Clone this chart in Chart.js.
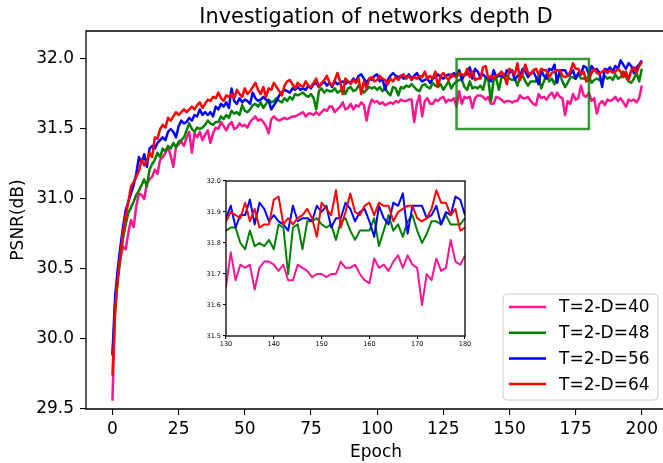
<!DOCTYPE html>
<html>
<head>
<meta charset="utf-8">
<script src="https://cdn.jsdelivr.net/npm/chart.js@4.4.0/dist/chart.umd.min.js"></script>
<style>
  html, body { margin: 0; padding: 0; background: #fff; overflow: hidden; }
  #wrap { position: relative; width: 663px; height: 463px; overflow: hidden; }
  #mainChart { position: absolute; left: 0; top: 0; }
  #zoomChart { position: absolute; left: 196px; top: 174px; }
</style>
</head>
<body>
<div id="wrap">
  <canvas id="mainChart" width="663" height="463"></canvas>
  <canvas id="zoomChart" width="275" height="175"></canvas>
</div>
<script>
'use strict';
// PSNR par epoque pour chaque profondeur D
const epochs = Array.from({ length: 201 }, (_, i) => i);

const psnrD40 = [
  29.56,30.25,30.45,30.58,30.66,30.64,30.76,30.85,30.80,30.95,
  31.04,31.03,31.00,31.11,31.14,31.16,31.21,31.18,31.28,31.30,
  31.33,31.37,31.31,31.23,31.37,31.39,31.41,31.38,31.44,31.48,
  31.33,31.47,31.44,31.48,31.42,31.46,31.49,31.40,31.47,31.51,
  31.50,31.55,31.52,31.49,31.53,31.55,31.50,31.51,31.54,31.52,
  31.53,31.51,31.55,31.57,31.59,31.56,31.57,31.55,31.52,31.47,
  31.57,31.59,31.57,31.56,31.57,31.58,31.57,31.58,31.59,31.59,
  31.60,31.61,31.62,31.59,31.61,31.61,31.60,31.62,31.60,31.62,
  31.64,31.63,31.66,31.66,31.62,31.64,31.66,31.69,31.64,31.65,
  31.68,31.64,31.67,31.66,31.69,31.67,31.56,31.66,31.71,31.69,
  31.70,31.68,31.69,31.67,31.68,31.69,31.68,31.70,31.69,31.71,
  31.70,31.70,31.71,31.71,31.55,31.68,31.74,31.59,31.70,31.72,
  31.68,31.68,31.71,31.70,31.72,31.73,31.69,31.71,31.70,31.72,
  31.66,31.77,31.68,31.73,31.72,31.73,31.65,31.72,31.74,31.74,
  31.73,31.71,31.73,31.68,31.68,31.73,31.72,31.71,31.69,31.70,
  31.70,31.69,31.70,31.70,31.74,31.72,31.72,31.73,31.70,31.68,
  31.67,31.75,31.72,31.73,31.71,31.74,31.76,31.72,31.76,31.73,
  31.72,31.60,31.70,31.68,31.75,31.71,31.72,31.81,31.74,31.73,
  31.76,31.70,31.72,31.61,31.68,31.70,31.67,31.71,31.70,31.71,
  31.73,31.70,31.72,31.69,31.66,31.71,31.70,31.71,31.69,31.72,31.81
];

const psnrD48 = [
  29.88,30.20,30.42,30.58,30.72,30.82,30.90,30.94,30.98,31.03,
  31.06,31.10,31.14,31.09,31.21,31.25,31.28,31.33,31.30,31.36,
  31.34,31.38,31.36,31.40,31.37,31.41,31.42,31.44,31.49,31.54,
  31.50,31.48,31.51,31.50,31.51,31.53,31.56,31.54,31.53,31.55,
  31.55,31.59,31.57,31.60,31.58,31.63,31.61,31.62,31.60,31.67,
  31.63,31.62,31.64,31.67,31.68,31.66,31.69,31.65,31.68,31.71,
  31.69,31.70,31.72,31.70,31.69,31.72,31.70,31.73,31.71,31.75,
  31.74,31.75,31.76,31.74,31.73,31.75,31.72,31.64,31.77,31.79,
  31.76,31.78,31.77,31.77,31.79,31.76,31.77,31.80,31.75,31.79,
  31.80,31.77,31.78,31.81,31.79,31.76,31.78,31.80,31.79,31.80,
  31.78,31.80,31.77,31.79,31.76,31.74,31.80,31.79,31.74,31.80,
  31.79,31.81,31.80,31.82,31.80,31.78,31.77,31.81,31.82,31.80,
  31.79,31.83,31.81,31.80,31.82,31.78,31.81,31.84,31.79,31.82,
  31.84,31.85,31.85,31.80,31.78,31.84,31.79,31.80,31.79,31.81,
  31.78,31.86,31.85,31.70,31.85,31.86,31.78,31.87,31.87,31.88,
  31.86,31.85,31.86,31.81,31.87,31.88,31.84,31.81,31.84,31.84,
  31.84,31.88,31.79,31.84,31.89,31.84,31.86,31.82,31.87,31.89,
  31.84,31.80,31.83,31.87,31.87,31.86,31.89,31.86,31.86,31.86,
  31.88,31.83,31.85,31.86,31.85,31.83,31.88,31.86,31.87,31.85,
  31.89,31.86,31.87,31.91,31.87,31.84,31.83,31.86,31.90,31.84,31.93
];

const psnrD56 = [
  29.89,30.30,30.50,30.66,30.80,30.92,30.98,31.04,31.10,31.18,
  31.30,31.26,31.32,31.23,31.36,31.38,31.36,31.40,31.42,31.44,
  31.42,31.48,31.50,31.48,31.44,31.52,31.56,31.54,31.55,31.58,
  31.56,31.60,31.59,31.64,31.60,31.62,31.60,31.62,31.59,31.66,
  31.64,31.68,31.66,31.69,31.65,31.79,31.70,31.68,31.72,31.69,
  31.71,31.70,31.68,31.76,31.72,31.70,31.71,31.73,31.71,31.70,
  31.64,31.67,31.70,31.74,31.76,31.78,31.77,31.76,31.79,31.78,
  31.80,31.78,31.79,31.78,31.81,31.79,31.82,31.83,31.80,31.82,
  31.84,31.81,31.83,31.80,31.84,31.82,31.83,31.84,31.82,31.84,
  31.83,31.86,31.84,31.88,31.89,31.86,31.83,31.86,31.85,31.88,
  31.89,31.84,31.86,31.78,31.85,31.88,31.90,31.88,31.87,31.88,
  31.86,31.87,31.89,31.86,31.88,31.90,31.86,31.84,31.85,31.86,
  31.83,31.86,31.87,31.89,31.87,31.86,31.88,31.89,31.87,31.90,
  31.88,31.92,31.85,31.89,31.89,31.94,31.86,31.93,31.91,31.87,
  31.89,31.87,31.86,31.84,31.92,31.87,31.88,31.88,31.87,31.92,
  31.90,31.92,31.85,31.88,31.88,31.93,31.91,31.87,31.90,31.91,
  31.87,31.82,31.92,31.88,31.86,31.93,31.92,31.96,31.83,31.92,
  31.92,31.92,31.88,31.89,31.92,31.86,31.90,31.89,31.95,31.94,
  31.89,31.95,31.92,31.93,31.90,31.80,31.93,31.92,31.94,31.91,
  31.95,31.93,31.99,31.96,31.93,31.97,31.95,31.90,31.94,31.96,31.99
];

const psnrD64 = [
  29.74,30.21,30.44,30.60,30.76,30.88,30.98,31.09,31.12,31.16,
  31.20,31.28,31.24,31.27,31.33,31.30,31.44,31.43,31.50,31.53,
  31.51,31.58,31.56,31.59,31.62,31.60,31.62,31.64,31.62,31.64,
  31.66,31.64,31.67,31.69,31.65,31.68,31.71,31.70,31.73,31.72,
  31.76,31.72,31.70,31.74,31.73,31.75,31.72,31.78,31.75,31.73,
  31.79,31.75,31.77,31.80,31.83,31.78,31.75,31.80,31.73,31.79,
  31.78,31.83,31.80,31.77,31.74,31.81,31.84,31.85,31.82,31.79,
  31.83,31.81,31.80,31.84,31.81,31.80,31.83,31.86,31.80,31.83,
  31.85,31.88,31.83,31.81,31.85,31.90,31.84,31.75,31.86,31.84,
  31.82,31.85,31.83,31.86,31.75,31.84,31.79,31.86,31.87,31.84,
  31.85,31.88,31.86,31.85,31.82,31.86,31.84,31.87,31.85,31.88,
  31.89,31.86,31.88,31.85,31.87,31.86,31.88,31.87,31.91,31.86,
  31.88,31.86,31.91,31.80,31.88,31.90,31.87,31.85,31.89,31.88,
  31.87,31.90,31.89,31.88,31.93,31.87,31.91,31.85,31.86,31.86,
  31.94,31.95,31.86,31.88,31.86,31.88,31.89,31.91,31.88,31.82,
  31.93,31.91,31.89,31.97,31.85,31.90,31.96,31.90,31.89,31.92,
  31.93,31.89,31.93,31.92,31.92,31.87,31.90,31.91,31.92,31.92,
  31.88,31.87,31.88,31.91,31.97,31.93,31.93,31.89,31.91,31.84,
  31.85,31.90,31.93,31.90,31.89,31.91,31.92,31.90,31.92,31.90,
  31.91,31.93,31.91,31.87,31.91,31.85,31.92,31.94,31.90,31.95,31.98
];

const seriesLabels = ['T=2-D=40', 'T=2-D=48', 'T=2-D=56', 'T=2-D=64'];
const seriesColors = ['#ff1493', '#008000', '#0000ff', '#ff0000'];

const xTicks = [0, 25, 50, 75, 100, 125, 150, 175, 200];
const yTicks = [29.5, 30.0, 30.5, 31.0, 31.5, 32.0];
const zoomEpochs = [130, 180];        // fenetre du zoom (axe x)
const zoomPsnr = [31.5, 32.0];        // fenetre du zoom (axe y)
const zoomXTicks = [130, 140, 150, 160, 170, 180];
const zoomYTicks = [31.5, 31.6, 31.7, 31.8, 31.9, 32.0];

const titleText = 'Investigation of networks depth D';
const xLabel = 'Epoch';
const yLabel = 'PSNR(dB)';

const FONT = 'DejaVu Sans';
const FS = 17;

function makeDatasets(width) {
  const all = [psnrD40, psnrD48, psnrD56, psnrD64];
  return all.map((serie, k) => ({
    label: seriesLabels[k],
    data: serie.map((v, i) => ({ x: epochs[i], y: v })),
    borderColor: seriesColors[k],
    backgroundColor: seriesColors[k],
    borderWidth: width,
    borderJoinStyle: 'round',
    pointRadius: 0,
    tension: 0,
    fill: false,
    order: 3 - k   // le rouge dessine en dernier
  }));
}

// cadre, titre, labels, legende et rectangle du zoom
const mainDecor = {
  id: 'mainDecor',
  afterDraw(chart) {
    const { ctx, chartArea: a, scales } = chart;
    ctx.save();

    // rectangle du zoom
    const x0 = scales.x.getPixelForValue(zoomEpochs[0]);
    const x1 = scales.x.getPixelForValue(zoomEpochs[1]);
    const y0 = scales.y.getPixelForValue(zoomPsnr[1]);
    const y1 = scales.y.getPixelForValue(zoomPsnr[0]);
    ctx.strokeStyle = 'rgba(0,128,0,0.8)';
    ctx.lineWidth = 2.5;
    ctx.strokeRect(x0, y0, x1 - x0, y1 - y0);

    // cadre (le bord droit sort de l'image)
    ctx.strokeStyle = '#000';
    ctx.lineWidth = 1.3;
    ctx.beginPath();
    ctx.moveTo(a.right + 2, a.top);
    ctx.lineTo(a.left, a.top);
    ctx.lineTo(a.left, a.bottom);
    ctx.lineTo(a.right + 2, a.bottom);
    ctx.stroke();

    ctx.fillStyle = '#000';
    // titre
    ctx.font = '20.8px "' + FONT + '"';
    ctx.textAlign = 'center';
    ctx.textBaseline = 'alphabetic';
    ctx.fillText(titleText, 376, 23);

    // label x
    ctx.font = FS + 'px "' + FONT + '"';
    ctx.fillText(xLabel, 376, 457);

    // label y
    ctx.save();
    ctx.translate(23, (a.top + a.bottom) / 2);
    ctx.rotate(-Math.PI / 2);
    ctx.fillText(yLabel, 0, 0);
    ctx.restore();

    // legende
    const lx = 503, ly = 294, lw = 155, lh = 106, r = 4;
    ctx.beginPath();
    ctx.moveTo(lx + r, ly);
    ctx.arcTo(lx + lw, ly, lx + lw, ly + lh, r);
    ctx.arcTo(lx + lw, ly + lh, lx, ly + lh, r);
    ctx.arcTo(lx, ly + lh, lx, ly, r);
    ctx.arcTo(lx, ly, lx + lw, ly, r);
    ctx.closePath();
    ctx.fillStyle = 'rgba(255,255,255,0.8)';
    ctx.fill();
    ctx.strokeStyle = '#cccccc';
    ctx.lineWidth = 1;
    ctx.stroke();

    ctx.textAlign = 'left';
    ctx.textBaseline = 'middle';
    seriesLabels.forEach((lab, k) => {
      const yy = 307 + k * 25.7;
      ctx.strokeStyle = seriesColors[k];
      ctx.lineWidth = 2.5;
      ctx.beginPath();
      ctx.moveTo(509, yy);
      ctx.lineTo(546, yy);
      ctx.stroke();
      ctx.fillStyle = '#000';
      ctx.fillText(lab, 559, yy + 1);
    });

    ctx.restore();
  }
};

const insetDecor = {
  id: 'insetDecor',
  beforeDraw(chart) {
    const { ctx, chartArea: a } = chart;
    ctx.save();
    ctx.fillStyle = '#fff';
    ctx.fillRect(a.left, a.top, a.right - a.left, a.bottom - a.top);
    ctx.restore();
  },
  afterDraw(chart) {
    const { ctx, chartArea: a } = chart;
    ctx.save();
    ctx.strokeStyle = '#000';
    ctx.lineWidth = 1.3;
    ctx.strokeRect(a.left, a.top, a.right - a.left, a.bottom - a.top);
    ctx.restore();
  }
};

function axis(min, max, ticks, opts) {
  return {
    type: 'linear',
    min: min,
    max: max,
    afterBuildTicks: s => { s.ticks = ticks.map(v => ({ value: v })); },
    afterFit: s => {
      opts.fit(s);
      s.paddingLeft = 0; s.paddingRight = 0; s.paddingTop = 0; s.paddingBottom = 0;
    },
    grid: { drawOnChartArea: false, color: '#000', lineWidth: 1.1, tickLength: opts.tickLen },
    border: { display: false },
    ticks: {
      color: '#000',
      font: { family: FONT, size: opts.size },
      padding: opts.pad,
      maxRotation: 0,
      autoSkip: false,
      callback: opts.fmt
    }
  };
}

const mainChart = new Chart(document.getElementById('mainChart'), {
  type: 'line',
  data: { datasets: makeDatasets(2.5) },
  options: {
    responsive: false,
    animation: false,
    devicePixelRatio: 1,
    layout: { padding: { top: 31, right: 0, left: 0, bottom: 0 } },
    plugins: { legend: { display: false }, tooltip: { enabled: false } },
    scales: {
      x: axis(-10, 208, xTicks, { fit: s => { s.height = 54; }, tickLen: 6, size: FS, pad: 4, fmt: v => String(v) }),
      y: axis(29.5, 32.2, yTicks, { fit: s => { s.width = 86; }, tickLen: 6, size: FS, pad: 6, fmt: v => v.toFixed(1) })
    }
  },
  plugins: [mainDecor]
});

const zoomChart = new Chart(document.getElementById('zoomChart'), {
  type: 'line',
  data: { datasets: makeDatasets(2) },
  options: {
    responsive: false,
    animation: false,
    devicePixelRatio: 1,
    layout: { padding: { top: 7, right: 6, left: 0, bottom: 0 } },
    plugins: { legend: { display: false }, tooltip: { enabled: false } },
    scales: {
      x: axis(zoomEpochs[0], zoomEpochs[1], zoomXTicks, { fit: s => { s.height = 13; }, tickLen: 3, size: 6.5, pad: 1, fmt: v => String(v) }),
      y: axis(zoomPsnr[0], zoomPsnr[1], zoomYTicks, { fit: s => { s.width = 30; }, tickLen: 3, size: 6.5, pad: 2, fmt: v => v.toFixed(1) })
    }
  },
  plugins: [insetDecor]
});
</script>
</body>
</html>
